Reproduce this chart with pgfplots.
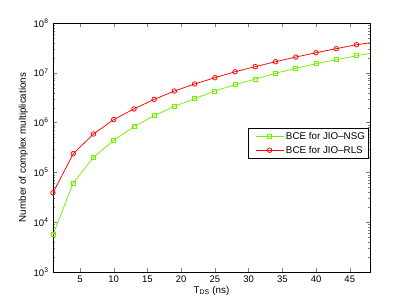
\documentclass[border=0pt]{standalone}
\usepackage{pgfplots}
\pgfplotsset{compat=1.18}
\usepackage{fontspec}
\setmainfont{Liberation Sans}
\definecolor{mgreen}{RGB}{115,240,0}
\definecolor{mred}{RGB}{255,0,0}
\begin{document}
\begin{tikzpicture}
\path[use as bounding box] (0,0) rectangle (409pt,307pt);
\begin{axis}[
  at={(53pt,35pt)}, anchor=south west,
  scale only axis, width=317pt, height=249pt,
  ymode=log, xmin=1, xmax=48, ymin=1e3, ymax=1e8,
  xtick={5,10,...,45},
  ytick={1e3,1e4,1e5,1e6,1e7,1e8},
  yticklabels={10\textsuperscript{3},10\textsuperscript{4},10\textsuperscript{5},10\textsuperscript{6},10\textsuperscript{7},10\textsuperscript{8}},
  tick align=inside, tick pos=both,
  major tick length=4pt, minor tick length=2pt,
  /pgf/number format/assume math mode=true,
  ticklabel style={font=\fontsize{9.5}{11}\selectfont},
  label style={font=\fontsize{9.8}{11}\selectfont},
  yticklabel style={xshift=-1pt},
  xlabel={T\textsubscript{DS} (ns)},
  ylabel={Number of complex multiplications},
  xlabel style={yshift=3pt},
  ylabel style={yshift=-1pt},
  axis line style={line width=0.6pt},
  clip=false,
  legend style={at={(0.995,0.578)}, anchor=north east, font=\fontsize{9.8}{11}\selectfont, draw=black, line width=0.5pt, inner xsep=1.2pt, inner ysep=2pt, row sep=1pt, cells={anchor=west}},
  legend image code/.code={\path (-6pt,0pt); \draw[#1, mark indices={2}] plot coordinates {(0pt,0pt) (14pt,0pt) (28pt,0pt)};},
]
\addplot[color=mgreen, line width=0.75pt, mark=square, mark size=2pt, mark options={solid}, mark indices={1,...,16}] coordinates {
(1,5.6e3) (4,6.1e4) (7,2.01e5) (10,4.4e5) (13,8.3e5) (16,1.38e6) (19,2.12e6) (22,3.02e6)
(25,4.31e6) (28,5.77e6) (31,7.5e6) (34,9.8e6) (37,1.23e7) (40,1.52e7) (43,1.83e7) (46,2.2e7) (48,2.46e7)};
\addlegendentry{BCE for JIO--NSG}
\addplot[color=mred, line width=0.75pt, mark=o, mark size=2.3pt, mark indices={1,...,16}] coordinates {
(1,3.9e4) (4,2.37e5) (7,5.9e5) (10,1.15e6) (13,1.88e6) (16,2.93e6) (19,4.3e6) (22,5.96e6)
(25,7.98e6) (28,1.05e7) (31,1.33e7) (34,1.67e7) (37,2.07e7) (40,2.53e7) (43,3.05e7) (46,3.66e7) (48,4.0e7)};
\addlegendentry{BCE for JIO--RLS}
\end{axis}
\end{tikzpicture}
\end{document}
